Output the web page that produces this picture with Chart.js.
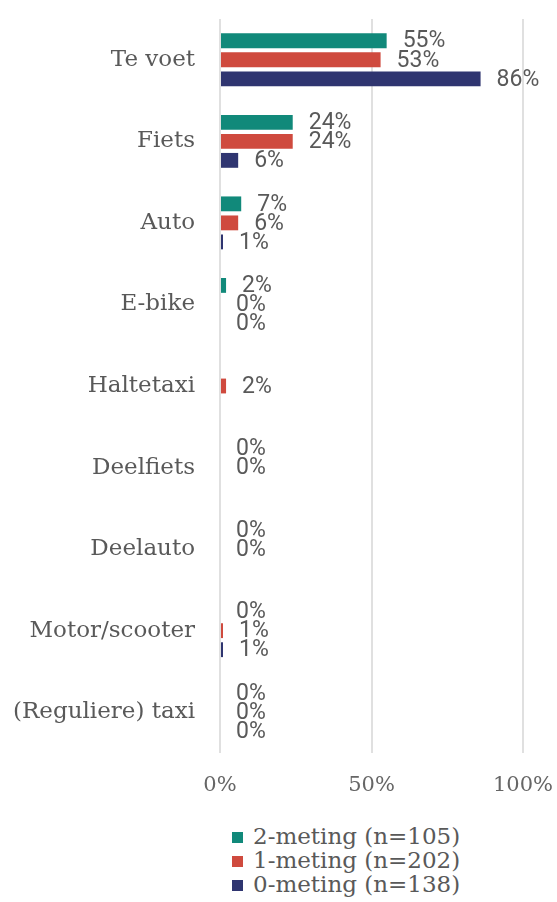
<!DOCTYPE html>
<html>
<head>
<meta charset="utf-8">
<script src="https://cdn.jsdelivr.net/npm/chart.js@4/dist/chart.umd.min.js"></script>
<style>
  html, body { margin: 0; padding: 0; background: #fff; }
  #wrap { position: relative; width: 557px; height: 902px; }
  #c { position: absolute; left: 0; top: 0; }
  #legend { position: absolute; left: 232px; top: 824px; font-family: "DejaVu Serif", serif; font-size: 23px; color: #595959; }
  #legend div { height: 24px; line-height: 24px; white-space: nowrap; }
  #legend span.box { display: inline-block; width: 11px; height: 11px; margin-right: 10px; vertical-align: 1px; }
</style>
</head>
<body>
<div id="wrap">
  <canvas id="c" width="557" height="800"></canvas>
  <div id="legend"></div>
</div>
<script>
const categories = ["Te voet", "Fiets", "Auto", "E-bike", "Haltetaxi", "Deelfiets", "Deelauto", "Motor/scooter", "(Reguliere) taxi"];
const meting2 = [55, 24, 7, 2, null, 0, 0, 0, 0];
const meting1 = [53, 24, 6, 0, 2, 0, 0, 1, 0];
const meting0 = [86, 6, 1, 0, null, null, null, 1, 0];
const seriesNames = ["2-meting (n=105)", "1-meting (n=202)", "0-meting (n=138)"];
const seriesColors = ["#11897a", "#cf4a3e", "#2f3570"];
const xTicks = [0, 50, 100];

function zeroPad(scale) {
  scale.paddingLeft = 0; scale.paddingRight = 0;
  scale.paddingTop = 0; scale.paddingBottom = 0;
}

const labelPlugin = {
  id: 'barLabels',
  afterDatasetsDraw(chart) {
    const ctx = chart.ctx;
    ctx.save();
    ctx.font = '23px Roboto';
    ctx.fillStyle = '#595959';
    ctx.textAlign = 'left';
    ctx.textBaseline = 'middle';
    chart.data.datasets.forEach((ds, i) => {
      const meta = chart.getDatasetMeta(i);
      meta.data.forEach((bar, j) => {
        const v = ds.data[j];
        if (v === null || v === undefined) return;
        const x0 = chart.scales.x.getPixelForValue(v);
        ctx.fillText(v + '%', x0 + 16, bar.y + 1);
      });
    });
    ctx.restore();
  }
};

const chart = new Chart(document.getElementById('c'), {
  type: 'bar',
  data: {
    labels: categories,
    datasets: [meting2, meting1, meting0].map((d, i) => ({
      label: seriesNames[i],
      data: d,
      backgroundColor: seriesColors[i],
      borderWidth: 0,
      categoryPercentage: 0.7,
      barPercentage: 0.78
    }))
  },
  options: {
    indexAxis: 'y',
    responsive: false,
    animation: false,
    layout: { padding: { top: 19, right: 34, left: 0, bottom: 0 } },
    plugins: { legend: { display: false }, tooltip: { enabled: false } },
    scales: {
      x: {
        min: 0, max: 100,
        afterBuildTicks(scale) { scale.ticks = xTicks.map(v => ({ value: v })); },
        afterFit(scale) { scale.height = 47; zeroPad(scale); },
        border: { display: false },
        grid: { color: '#e0e0e0', lineWidth: 2, drawTicks: false },
        ticks: {
          padding: 20,
          maxRotation: 0,
          color: '#666666',
          font: { family: 'DejaVu Serif', size: 21 },
          callback: v => v + '%'
        }
      },
      y: {
        afterFit(scale) { scale.width = 220; zeroPad(scale); },
        border: { display: false },
        grid: { display: false, drawTicks: false },
        ticks: {
          padding: 25,
          color: '#595959',
          font: { family: 'DejaVu Serif', size: 23 }
        }
      }
    }
  },
  plugins: [labelPlugin]
});

const legend = document.getElementById('legend');
seriesNames.forEach((n, i) => {
  const row = document.createElement('div');
  const box = document.createElement('span');
  box.className = 'box';
  box.style.background = seriesColors[i];
  row.appendChild(box);
  row.appendChild(document.createTextNode(n));
  legend.appendChild(row);
});
</script>
</body>
</html>
